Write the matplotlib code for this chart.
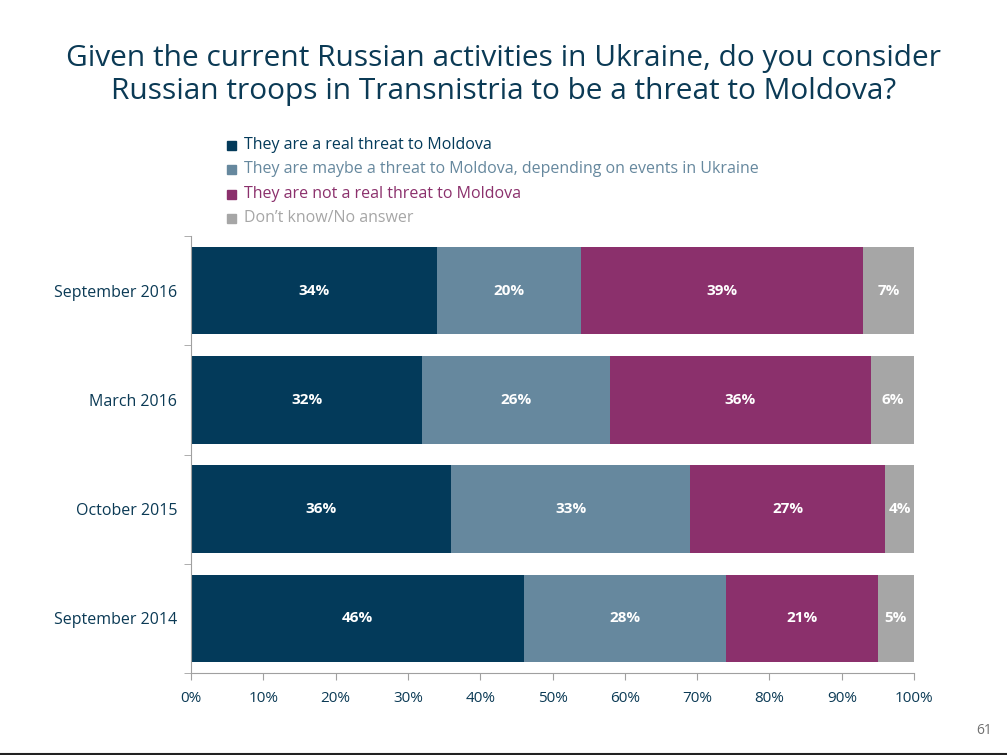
import matplotlib.pyplot as plt
import numpy as np

plt.rcParams['font.family'] = ['Open Sans', 'DejaVu Sans']

waves = ['September 2014', 'October 2015', 'March 2016', 'September 2016']
real_threat = [46, 36, 32, 34]
maybe_threat = [28, 33, 26, 20]
not_threat = [21, 27, 36, 39]
dont_know = [5, 4, 6, 7]

series = [
    ('They are a real threat to Moldova', real_threat, '#033a5a'),
    ('They are maybe a threat to Moldova, depending on events in Ukraine', maybe_threat, '#66889e'),
    ('They are not a real threat to Moldova', not_threat, '#8b306c'),
    ('Don\u2019t know/No answer', dont_know, '#a6a6a6'),
]

fig = plt.figure(figsize=(10.07, 7.55), dpi=100)
ax = fig.add_axes([0.1897, 0.1086, 0.7180, 0.5788])

y = np.arange(len(waves))
left = np.zeros(len(waves))
for name, vals, c in series:
    vals = np.array(vals)
    ax.barh(y, vals, left=left, height=0.8, color=c, label=name)
    for yi, l, v in zip(y, left, vals):
        ax.text(l + v / 2, yi, f'{v}%', ha='center', va='center',
                color='white', fontsize=11, fontweight='bold')
    left += vals

ax.set_xlim(0, 100)
ax.set_ylim(-0.5, len(waves) - 0.5)
ax.set_xticks(np.arange(0, 101, 10))
ax.set_xticklabels([f'{t}%' for t in range(0, 101, 10)], fontsize=11, color='#0b3a55')
ax.set_yticks(y)
ax.set_yticklabels(waves, fontsize=11.5, color='#0b3a55')
ax.set_yticks(np.arange(-0.5, len(waves), 1), minor=True)
ax.tick_params(axis='y', which='major', length=0, pad=10)
ax.tick_params(axis='y', which='minor', length=5, color='#a0a0a0', direction='out')
ax.tick_params(axis='x', length=5, color='#a0a0a0', pad=8)
for s in ['top', 'right']:
    ax.spines[s].set_visible(False)
for s in ['left', 'bottom']:
    ax.spines[s].set_color('#a0a0a0')

fig.text(0.5, 1 - 75 / 755, 'Given the current Russian activities in Ukraine, do you consider\n'
         'Russian troops in Transnistria to be a threat to Moldova?',
         ha='center', va='center', fontsize=21.5, color='#0b3a55', linespacing=1.2)

# legend drawn as coloured squares and coloured text
for i, (name, vals, c) in enumerate(series):
    yy = 1 - (145 + i * 24.3) / 755
    fig.patches.append(plt.Rectangle((227 / 1007, yy - 0.0065), 9 / 1007, 9 / 755,
                                     transform=fig.transFigure, color=c))
    fig.text(244 / 1007, yy, name, ha='left', va='center', fontsize=11.5, color=c)

fig.text(0.985, 1 - 730 / 755, '61', ha='right', va='center', fontsize=10, color='#707070')
fig.add_artist(plt.Line2D([0, 1], [0.001, 0.001], transform=fig.transFigure,
                          color='#222222', linewidth=1.5))

fig.savefig('out.png', dpi=100)
